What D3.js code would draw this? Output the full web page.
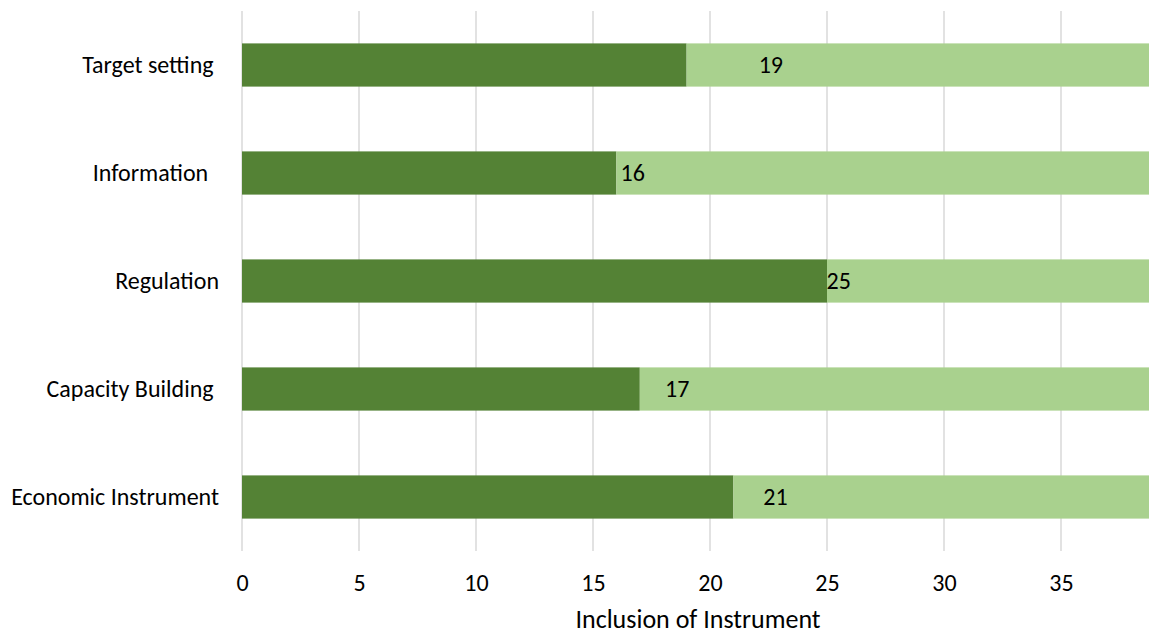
<!DOCTYPE html>
<html>
<head>
<meta charset="utf-8">
<script src="https://cdn.jsdelivr.net/npm/d3@7"></script>
<style>
  body { margin: 0; background: #fff; }
  svg { display: block; font-family: Carlito, Lato, "Open Sans", sans-serif; }
  .cat { white-space: pre; }
</style>
</head>
<body>
<div id="chart"></div>
<script>
var categories = ["Target setting ", "Information  ", "Regulation", "Capacity Building ", "Economic Instrument"];
var included = [19, 16, 25, 17, 21];
var notIncluded = [21, 24, 15, 23, 19];
var labelAt = [22.6, 16.7, 25.5, 18.6, 22.8];
var tickValues = [0, 5, 10, 15, 20, 25, 30, 35];

var width = 1149, height = 635;
var plotTop = 11, plotBottom = 551;

var svg = d3.select("#chart").append("svg")
	.attr("width", width)
	.attr("height", height);

var x = d3.scaleLinear().domain([0, 35]).range([242, 1061]);
var y = d3.scaleBand().domain(categories).range([plotTop, plotBottom]).paddingInner(0.6).paddingOuter(0.3);

// gridlines
svg.append("g").selectAll("line")
	.data(tickValues)
	.enter().append("line")
	.attr("x1", function (d) { return x(d); })
	.attr("x2", function (d) { return x(d); })
	.attr("y1", plotTop)
	.attr("y2", plotBottom)
	.attr("stroke", "#d9d9d9")
	.attr("stroke-width", 1.5);

var rows = categories.map(function (c, i) {
	return { cat: c, a: included[i], b: notIncluded[i], lab: labelAt[i] };
});

var bars = svg.append("g");
bars.selectAll("rect.a")
	.data(rows)
	.enter().append("rect")
	.attr("class", "a")
	.attr("x", x(0))
	.attr("y", function (d) { return y(d.cat); })
	.attr("width", function (d) { return x(d.a) - x(0); })
	.attr("height", y.bandwidth())
	.attr("fill", "#548235");

bars.selectAll("rect.b")
	.data(rows)
	.enter().append("rect")
	.attr("class", "b")
	.attr("x", function (d) { return x(d.a); })
	.attr("y", function (d) { return y(d.cat); })
	.attr("width", function (d) { return x(d.a + d.b) - x(d.a); })
	.attr("height", y.bandwidth())
	.attr("fill", "#a9d18e");

bars.selectAll("text")
	.data(rows)
	.enter().append("text")
	.attr("x", function (d) { return x(d.lab); })
	.attr("y", function (d) { return y(d.cat) + y.bandwidth() / 2; })
	.attr("dy", "0.35em")
	.attr("text-anchor", "middle")
	.attr("font-size", 24)
	.attr("fill", "#000")
	.text(function (d) { return d.a; });

// category labels
svg.append("g").selectAll("text")
	.data(categories)
	.enter().append("text")
	.attr("class", "cat")
	.attr("x", 219)
	.attr("y", function (d) { return y(d) + y.bandwidth() / 2; })
	.attr("dy", "0.35em")
	.attr("text-anchor", "end")
	.attr("font-size", 24)
	.attr("fill", "#000")
	.text(function (d) { return d; });

// x axis
var xAxis = d3.axisBottom(x).tickValues(tickValues).tickSize(0).tickPadding(0);
var ax = svg.append("g")
	.attr("transform", "translate(0," + (plotBottom + 32) + ")")
	.call(xAxis);
ax.select(".domain").remove();
ax.selectAll("text")
	.attr("font-size", 24)
	.attr("font-family", "Carlito, Lato, 'Open Sans', sans-serif")
	.attr("fill", "#000")
	.attr("dy", "0.35em");

svg.append("text")
	.attr("x", 698)
	.attr("y", 619)
	.attr("dy", "0.35em")
	.attr("text-anchor", "middle")
	.attr("font-size", 26)
	.attr("fill", "#000")
	.text("Inclusion of Instrument");
</script>
</body>
</html>
